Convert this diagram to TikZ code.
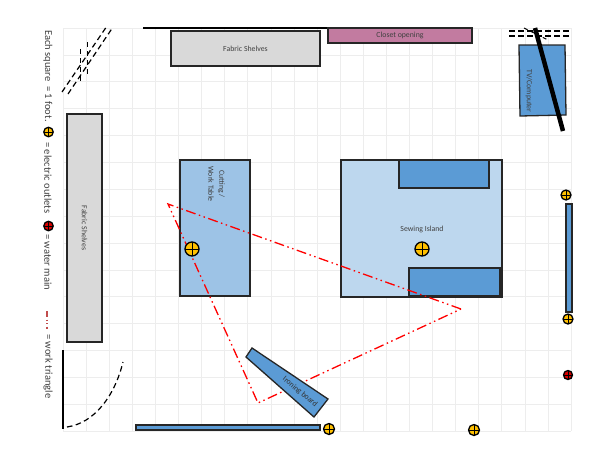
\documentclass[tikz,border=0pt]{standalone}
\usepackage{fontspec}
\setmainfont{Carlito}
\definecolor{gridgray}{HTML}{EDEDED}
\definecolor{shelfgray}{HTML}{D9D9D9}
\definecolor{closetpink}{HTML}{C27BA0}
\definecolor{midblue}{HTML}{5B9BD5}
\definecolor{tableblue}{HTML}{9DC3E6}
\definecolor{islandblue}{HTML}{BDD7EE}
\definecolor{outletyellow}{HTML}{FFC000}
\definecolor{labelgray}{HTML}{404040}
\tikzset{
	furniture/.style={draw=black!85,line width=1.3pt,inner sep=0pt,text=labelgray,font=\fontsize{7.8}{9}\selectfont,align=center},
	socket/.style={circle,draw=black,line width=1.3pt,inner sep=0pt,minimum size=#1,fill=outletyellow,
		path picture={\draw[line width=1pt] (path picture bounding box.north) -- (path picture bounding box.south)
			(path picture bounding box.west) -- (path picture bounding box.east);}},
	watermain/.style={socket=#1,fill=red!85!black},
	swing/.style={draw=black,line width=1.2pt,dash pattern=on 5.5pt off 3.5pt},
	worktriangle/.style={draw=red,line width=1.3pt,dash pattern=on 10pt off 3.5pt on 1.5pt off 3.5pt on 1.5pt off 3.5pt},
	legend/.style={rotate=-90,anchor=west,inner sep=0pt,text=labelgray,font=\fontsize{10.5}{12}\selectfont}
}
\begin{document}
\begin{tikzpicture}[x=1pt,y=-1pt]
	\useasboundingbox (0,0) rectangle (600,464);
	\foreach \gx in {0,...,22} {
		\draw[gridgray,line width=.6pt] (63+\gx*23.09,28) -- (63+\gx*23.09,431);
	}
	\foreach \gy in {0,...,15} {
		\draw[gridgray,line width=.6pt] (63,28+\gy*26.87) -- (571,28+\gy*26.87);
	}
	\draw[black,line width=1.2pt] (143,28) -- (328,28);
	\node[furniture,fill=shelfgray,minimum width=149pt,minimum height=35pt] (shelvestop) at (245.5,48.5) {Fabric Shelves};
	\node[furniture,fill=closetpink,minimum width=144pt,minimum height=15pt] (closet) at (400,35.5) {Closet opening};
	\node[furniture,fill=shelfgray,minimum width=228pt,minimum height=35pt,rotate=-90] (shelvesleft) at (84.5,228) {Fabric Shelves};
	\node[furniture,fill=tableblue,minimum width=70pt,minimum height=136pt] (cuttingtable) at (215,228) {};
	\node[rotate=-90,inner sep=0pt,text=labelgray,align=center,font=\fontsize{7.8}{11}\selectfont] (cuttinglabel) at (216.5,184) {Cutting /\\Work Table};
	\node[furniture,fill=islandblue,minimum width=161pt,minimum height=137pt] (island) at (421.5,228.5) {};
	\node[furniture,fill=midblue,minimum width=90pt,minimum height=28pt] (islandtop) at (444,174) {};
	\node[furniture,fill=midblue,minimum width=91pt,minimum height=28pt] (islandbottom) at (454.5,282) {};
	\node[inner sep=0pt,text=labelgray,font=\fontsize{7.8}{9}\selectfont] (islandlabel) at (422,229) {Sewing Island};
	\node[furniture,fill=midblue,minimum width=6pt,minimum height=108pt] (stripright) at (569,258) {};
	\node[furniture,fill=midblue,minimum width=184pt,minimum height=5pt] (stripbottom) at (228,427.5) {};
	\draw[furniture,fill=midblue] (519,45) -- (565,45) -- (566,115) -- (520,116) -- cycle;
	\node[rotate=-90,inner sep=0pt,text=labelgray,font=\fontsize{7.8}{9}\selectfont] (tvlabel) at (529,91) {TV/Computer};
	\draw[black,line width=4.5pt] (535,28) -- (563,131);
	\draw[swing] (509,31) -- (570,31);
	\draw[swing] (509,36) -- (570,36);
	\draw[black,line width=1pt,dash pattern=on 4pt off 3pt] (524,28) -- (548,40);
	\draw[swing] (62,92) -- (107,26);
	\draw[swing] (68,94) -- (113,27);
	\draw[black,line width=1pt,dash pattern=on 5pt off 4pt] (87,42) -- (87,76);
	\draw[black,line width=1pt,dash pattern=on 5pt off 4pt] (80,49) -- (80,82);
	\draw[black,line width=1.2pt] (63,350) -- (63,429);
	\draw[swing] (67,427) .. controls (95,423) and (115,395) .. (123,362);
	\coordinate (cornertable) at (168,204);
	\coordinate (cornerboard) at (258,403);
	\coordinate (cornerisland) at (461,309);
	\draw[worktriangle] (cornerisland) -- (cornertable) -- (cornerboard) -- cycle;
	\draw[furniture,fill=midblue] (252,348) -- (328,399) -- (314,417) -- (246,357) -- cycle;
	\node[rotate=-40,inner sep=0pt,text=black!80,font=\fontsize{7.8}{9}\selectfont] (ironinglabel) at (300,392) {Ironing board};
	\node[socket=14pt] (outlettable) at (192,249) {};
	\node[socket=14pt] (outletisland) at (422,249) {};
	\node[socket=10pt] (outletrighttop) at (566,195) {};
	\node[socket=10pt] (outletrightlow) at (568,319) {};
	\node[socket=11pt] (outletbottoma) at (329,429) {};
	\node[socket=11pt] (outletbottomb) at (474,430) {};
	\node[watermain=9pt] (watermainright) at (568,375) {};
	\node[legend] (legendsquare) at (48,30) {Each square\ \ = 1 foot.};
	\node[socket=9.5pt] (legendoutlet) at (48.5,132) {};
	\node[legend] (legendelectric) at (48,142) {= electric outlets};
	\node[watermain=9.5pt] (legendwater) at (48.5,226) {};
	\node[legend] (legendmain) at (48,234) {= water main};
	\coordinate (legendstart) at (47,311);
	\coordinate (legendend) at (47,329);
	\draw[red!65!black!70,line width=1.4pt,dash pattern=on 6pt off 2.5pt on 1pt off 2.5pt on 1pt off 2.5pt] (legendstart) -- (legendend);
	\node[legend] (legendtriangle) at (48,334) {= work triangle};
\end{tikzpicture}
\end{document}
